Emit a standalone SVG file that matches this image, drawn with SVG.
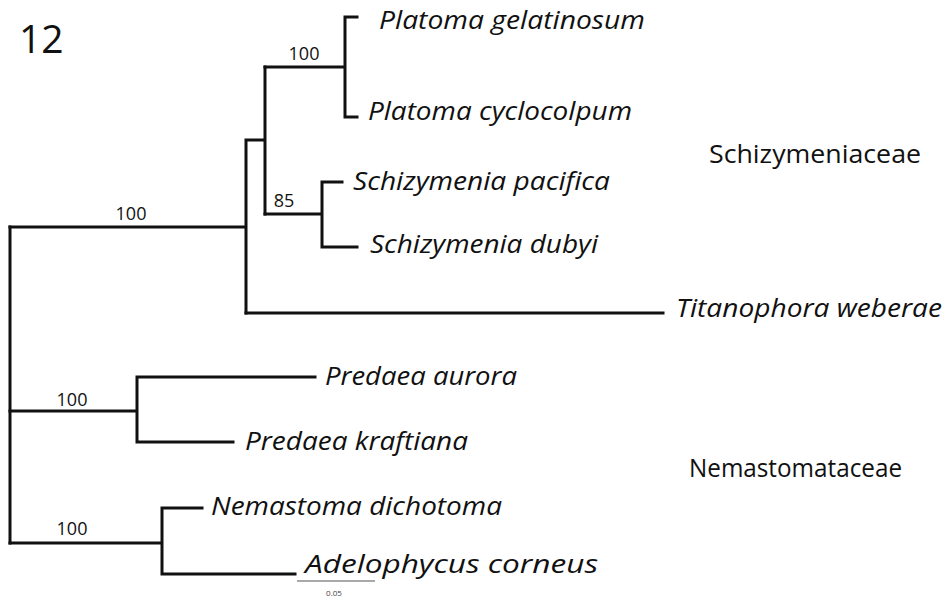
<svg xmlns="http://www.w3.org/2000/svg" width="948" height="599" viewBox="0 0 948 599">
<style>
.br{fill:none;stroke:#111;stroke-width:3;stroke-linecap:square}
.tx{font-family:"Open Sans","Liberation Sans",sans-serif;font-style:italic;font-size:26px;fill:#111}
.bs{font-family:"Open Sans","Liberation Sans",sans-serif;font-size:18px;fill:#111}
.fam{font-family:"Open Sans","Liberation Sans",sans-serif;font-size:25px;fill:#111}
</style>
<rect width="948" height="599" fill="#fff"/>
<text x="19" y="53" font-family="Open Sans, Liberation Sans, sans-serif" font-size="39" fill="#111">12</text>
<g id="connectors">
<path class="br" d="M10,227 V543"/>
<path class="br" d="M10,227 H246 M246,140 V313 M246,140 H265 M265,67 V214"/>
<path class="br" d="M265,67 H345 M345,17 V117 M345,17 H357 M345,117 H357"/>
<path class="br" d="M265,214 H322 M322,182 V247 M322,182 H342 M322,247 H357"/>
<path class="br" d="M246,313 H663"/>
<path class="br" d="M10,411 H137 M137,377 V442 M137,377 H315 M137,442 H233"/>
<path class="br" d="M10,543 H162 M162,508 V574 M162,508 H202 M162,574 H295"/>
</g>
<g id="bootstrap">
<text class="bs" x="131" y="220" text-anchor="middle">100</text>
<text class="bs" x="304" y="60" text-anchor="middle">100</text>
<text class="bs" x="284" y="207" text-anchor="middle">85</text>
<text class="bs" x="72" y="406" text-anchor="middle">100</text>
<text class="bs" x="72" y="535" text-anchor="middle">100</text>
</g>
<g id="n-platoma-gelatinosum"><text class="tx" x="379" y="29" textLength="266" lengthAdjust="spacingAndGlyphs">Platoma gelatinosum</text></g>
<g id="n-platoma-cyclocolpum"><text class="tx" x="368" y="120" textLength="264" lengthAdjust="spacingAndGlyphs">Platoma cyclocolpum</text></g>
<g id="n-schizymenia-pacifica"><text class="tx" x="353" y="190" textLength="257" lengthAdjust="spacingAndGlyphs">Schizymenia pacifica</text></g>
<g id="n-schizymenia-dubyi"><text class="tx" x="370" y="253" textLength="228" lengthAdjust="spacingAndGlyphs">Schizymenia dubyi</text></g>
<g id="n-titanophora-weberae"><text class="tx" x="676" y="317" textLength="266" lengthAdjust="spacingAndGlyphs">Titanophora weberae</text></g>
<g id="n-predaea-aurora"><text class="tx" x="325" y="385" textLength="192" lengthAdjust="spacingAndGlyphs">Predaea aurora</text></g>
<g id="n-predaea-kraftiana"><text class="tx" x="245" y="450" textLength="223" lengthAdjust="spacingAndGlyphs">Predaea kraftiana</text></g>
<g id="n-nemastoma-dichotoma"><text class="tx" x="211" y="515" textLength="291" lengthAdjust="spacingAndGlyphs">Nemastoma dichotoma</text></g>
<g id="n-adelophycus-corneus"><text class="tx" x="305" y="573" textLength="293" lengthAdjust="spacingAndGlyphs">Adelophycus corneus</text></g>
<g id="fam-schizymeniaceae"><text class="fam" x="709" y="163" textLength="212" lengthAdjust="spacingAndGlyphs">Schizymeniaceae</text></g>
<g id="fam-nemastomataceae"><text class="fam" x="689" y="477" textLength="213" lengthAdjust="spacingAndGlyphs">Nemastomataceae</text></g>
<g id="scale">
<path d="M297,581 H375" stroke="#555" stroke-width="1.2" fill="none"/>
<text x="334" y="596" text-anchor="middle" font-family="Open Sans, Liberation Sans, sans-serif" font-size="8" fill="#444">0.05</text>
</g>
</svg>
